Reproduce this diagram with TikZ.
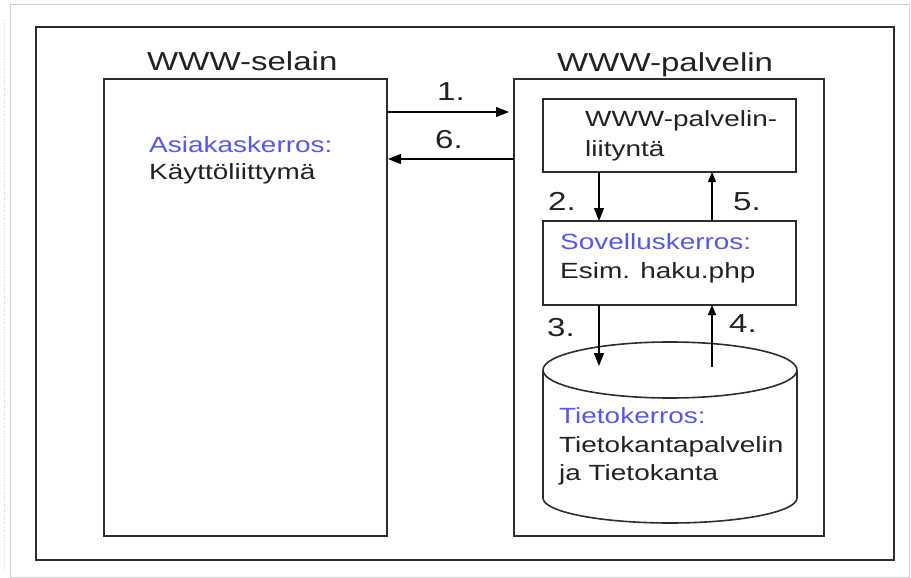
\documentclass[tikz,border=0pt]{standalone}
\usepackage{fontspec}
\setmainfont{Liberation Sans}[FakeStretch=1.27]
\usetikzlibrary{arrows.meta}
\definecolor{layerblue}{RGB}{88,88,232}
\definecolor{ink}{RGB}{34,34,34}
\definecolor{linec}{RGB}{45,45,45}
\tikzset{
  box/.style={draw=linec, line width=1.6pt, fill=none, inner sep=0pt, outer sep=0pt},
  txt/.style={anchor=base west, inner sep=0pt, text=ink, font=\fontsize{22}{26}\selectfont},
  bluetxt/.style={txt, text=layerblue},
  title/.style={anchor=base west, inner sep=0pt, text=ink, font=\fontsize{26}{30}\selectfont},
  num/.style={anchor=base west, inner sep=0pt, text=ink, font=\fontsize{26}{30}\selectfont},
  arr/.style={draw=black, line width=1.3pt, -{Triangle[length=13pt,width=10pt]}},
  arrs/.style={draw=black, line width=1.3pt, -{Triangle[length=10pt,width=8pt]}},
}
\begin{document}
\begin{tikzpicture}[x=1pt,y=-1pt]
\useasboundingbox (0,0) rectangle (911,578);
% faint outer frame
\draw[gray!35, line width=0.8pt] (10,4) rectangle (909,577);
\draw[gray!30, line width=0.6pt, dotted] (4,20) -- (4,570);
% outer black rectangle
\node[box, minimum width=858, minimum height=533] (outer) at (465,293.5) {};
% main boxes
\node[box, minimum width=283, minimum height=457] (sel) at (245.5,307.5) {};
\node[box, minimum width=310, minimum height=457] (pal) at (669,307.5) {};
\node[title] (tsel) at (147,71) {WWW-selain};
\node[title] (tpal) at (557,72) {WWW-palvelin};
% client text
\node[bluetxt] (asi) at (149,152) {Asiakaskerros:};
\node[txt] (kay) at (149,179) {Käyttöliittymä};
% inner boxes
\node[box, minimum width=253, minimum height=73] (iface) at (669.5,135.5) {};
\node[txt] (if1) at (585,127) {WWW-palvelin-};
\node[txt] (if2) at (585,156) {liityntä};
\node[box, minimum width=253, minimum height=84] (app) at (669.5,263) {};
\node[bluetxt] (sov) at (560,249) {Sovelluskerros:};
\node[txt] (esi) at (560,278) {Esim. haku.php};
% database cylinder
\coordinate (dbtop) at (670,370);
\draw[draw=linec, line width=1.6pt] (543,370) -- (543,498) arc[start angle=180, end angle=0, x radius=127, y radius=25] -- (797,370);
\draw[draw=linec, line width=1.6pt] (dbtop) ellipse[x radius=127, y radius=28];
\node[bluetxt] (tie) at (559,423) {Tietokerros:};
\node[txt] (tk1) at (559,452) {Tietokantapalvelin};
\node[txt] (tk2) at (559,480) {ja Tietokanta};
% connectors
\coordinate (db3) at (599,366);
\coordinate (db4) at (712,367);
\draw[arr, shorten >=5pt] (sel.east |- 0,112) -- (pal.west |- 0,112);
\draw[arr, shorten >=1pt] (pal.west |- 0,159) -- (sel.east |- 0,159);
\draw[arr] (iface.south -| 599,0) -- (app.north -| 599,0);
\draw[arrs] (app.north -| 712,0) -- (iface.south -| 712,0);
\draw[arr] (app.south -| 599,0) -- (db3);
\draw[arrs] (db4) -- (app.south -| 712,0);
% step numbers
\node[num] (n1) at (437,101) {1.};
\node[num] (n6) at (435,148) {6.};
\node[num] (n2) at (548,210) {2.};
\node[num] (n5) at (733,210) {5.};
\node[num] (n3) at (547,336) {3.};
\node[num] (n4) at (729,332) {4.};
\end{tikzpicture}
\end{document}
